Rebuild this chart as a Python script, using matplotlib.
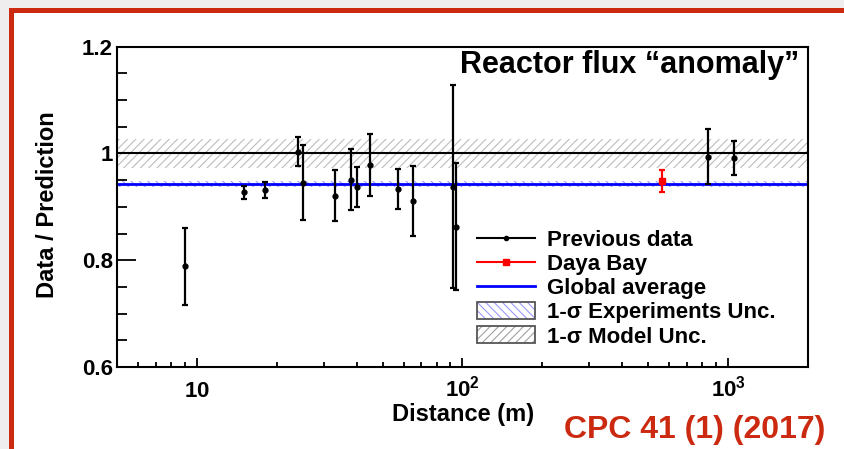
import matplotlib
matplotlib.use("Agg")
import matplotlib.pyplot as plt
from matplotlib.lines import Line2D
from matplotlib.patches import Patch, Rectangle
from matplotlib.ticker import MultipleLocator, FixedLocator, NullFormatter
import numpy as np

plt.rcParams['font.family'] = ['Liberation Sans', 'DejaVu Sans']
plt.rcParams['font.weight'] = 'bold'
plt.rcParams['hatch.linewidth'] = 0.8

# previous reactor experiments: baseline (m), measured/predicted ratio, error
dist = [9.0, 15.0, 18.0, 24.0, 25.0, 33.0, 38.0, 40.0, 45.0, 57.0, 65.0, 92.0, 94.5, 840.0, 1050.0]
ratio = [0.789, 0.927, 0.931, 1.003, 0.945, 0.921, 0.951, 0.937, 0.978, 0.933, 0.911, 0.938, 0.863, 0.994, 0.992]
err = [0.072, 0.012, 0.015, 0.027, 0.070, 0.048, 0.057, 0.038, 0.058, 0.037, 0.065, 0.190, 0.119, 0.052, 0.032]

# Daya Bay
dyb_dist = [564.0]
dyb_ratio = [0.948]
dyb_err = [0.021]

global_avg = 0.943
exp_unc = 0.006
model_unc = 0.027

xticks = [10, 100, 1000]
xticklabels = [r'$\mathregular{10}$', r'$\mathregular{10^{2}}$', r'$\mathregular{10^{3}}$']
yticks = [0.6, 0.8, 1.0, 1.2]
yticklabels = ['0.6', '0.8', '1', '1.2']

W, H = 845, 449
fig = plt.figure(figsize=(W / 100, H / 100), dpi=100, facecolor='#efeded')

# slide frame
fig.patches.append(Rectangle((9 / W, 0), 1, (H - 8) / H, transform=fig.transFigure,
                             facecolor='#cc2a10', edgecolor='none', zorder=-10))
fig.patches.append(Rectangle((14 / W, 0), 1, (H - 13) / H, transform=fig.transFigure,
                             facecolor='white', edgecolor='none', zorder=-9))

ax = fig.add_axes([117 / W, 1 - 367 / H, (808 - 117) / W, (367 - 46.7) / H])
ax.set_facecolor('none')

ax.set_xscale('log')
ax.set_xlim(5, 2000)
ax.set_ylim(0.6, 1.2)

# uncertainty bands
ax.axhspan(1 - model_unc, 1 + model_unc, facecolor='none', edgecolor='#bdbdbd',
           hatch='////', lw=0, zorder=1)
ax.axhspan(global_avg - exp_unc, global_avg + exp_unc, facecolor='none', edgecolor='#9a9aff',
           hatch='\\\\\\\\', lw=0, zorder=1)
ax.axhline(1.0, color='black', lw=1.5, zorder=2)
ax.axhline(global_avg, color='blue', lw=2, zorder=2)

ax.errorbar(dist, ratio, yerr=err, fmt='o', color='black', ms=3.5, elinewidth=1.6,
            capsize=2.5, capthick=1.6, zorder=3)
ax.errorbar(dyb_dist, dyb_ratio, yerr=dyb_err, fmt='s', color='red', ms=4, elinewidth=1.6,
            capsize=2.5, capthick=1.6, zorder=4)

# axes styling
for s in ax.spines.values():
    s.set_linewidth(1.5)
ax.set_yticks(yticks, yticklabels)
ax.yaxis.set_minor_locator(MultipleLocator(0.05))
ax.xaxis.set_major_locator(FixedLocator(xticks))
ax.xaxis.set_major_formatter(NullFormatter())
minor = [m * 10 ** e for e in range(0, 4) for m in range(2, 10)]
ax.xaxis.set_minor_locator(FixedLocator([v for v in minor if 5 <= v <= 2000]))
ax.xaxis.set_minor_formatter(NullFormatter())
ax.tick_params(which='both', direction='in', top=False, right=False, width=1.3, labelsize=16)
ax.tick_params(axis='y', which='major', length=14, pad=3)
ax.tick_params(axis='y', which='minor', length=7)
ax.tick_params(axis='x', which='major', length=6.5)
ax.tick_params(axis='x', which='minor', length=3.5)

# x tick labels share one baseline below the axis
for xv, lab in zip(xticks, xticklabels):
    ax.text(xv, -30 / 320.3, lab, transform=ax.get_xaxis_transform(), ha='center',
            va='baseline', fontsize=16, fontweight='bold')

ax.text(0.988, 0.917, 'Reactor flux \u201canomaly\u201d', transform=ax.transAxes,
        ha='right', va='baseline', fontsize=22, fontweight='bold')

# legend
h_prev = Line2D([], [], color='black', lw=1.5, marker='o', ms=3)
h_dyb = Line2D([], [], color='red', lw=1.5, marker='s', ms=4)
h_glob = Line2D([], [], color='blue', lw=2)
h_exp = (Patch(facecolor='white', edgecolor='#9a9aff', hatch='\\\\\\\\', lw=0),
         Patch(facecolor='none', edgecolor='#555555', lw=1.3))
h_mod = (Patch(facecolor='white', edgecolor='#a0a0a0', hatch='////', lw=0),
         Patch(facecolor='none', edgecolor='#555555', lw=1.3))
ax.legend([h_prev, h_dyb, h_glob, h_exp, h_mod],
          ['Previous data', 'Daya Bay', 'Global average', '1-\u03c3 Experiments Unc.',
           '1-\u03c3 Model Unc.'],
          loc='upper left', bbox_to_anchor=(0.521, 0.428), frameon=False, fontsize=16,
          borderpad=0, borderaxespad=0, handlelength=2.6, handleheight=0.8,
          handletextpad=0.55, labelspacing=0.13)

fig.text(48 / W, 1 - 205 / H, 'Data / Prediction', rotation=90, ha='center', va='center',
         fontsize=17, fontweight='bold')
fig.text(463 / W, 1 - 414 / H, 'Distance (m)', ha='center', va='center',
         fontsize=17, fontweight='bold')
fig.text(825 / W, 1 - 438 / H, 'CPC 41 (1) (2017)', ha='right', va='baseline',
         fontsize=23, fontweight='bold', color='#cc2a10')

fig.savefig('out.png', dpi=100, facecolor=fig.get_facecolor())
